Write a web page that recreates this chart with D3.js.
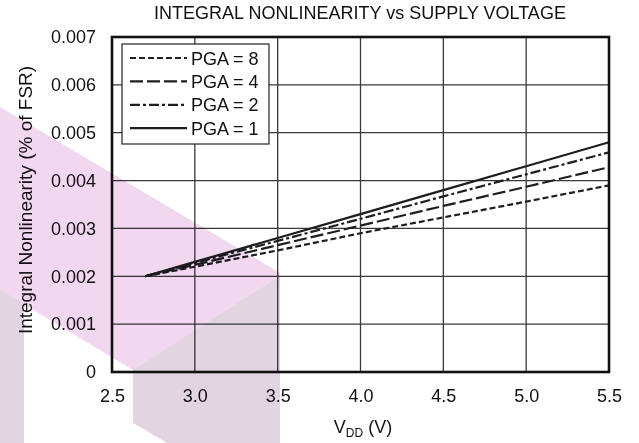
<!DOCTYPE html>
<html><head><meta charset="utf-8">
<script src="https://cdn.jsdelivr.net/npm/d3@7"></script>
<style>body{margin:0;background:#fff}svg{display:block;font-family:"Liberation Sans",Arial,sans-serif}</style>
</head><body><svg id="c" width="639" height="443"></svg>
<script>
const title = "INTEGRAL NONLINEARITY vs SUPPLY VOLTAGE";
const xTicks = [2.5, 3.0, 3.5, 4.0, 4.5, 5.0, 5.5];
const yTicks = [0, 0.001, 0.002, 0.003, 0.004, 0.005, 0.006, 0.007];
const vdd = [2.7, 3.0, 3.5, 4.0, 4.5, 5.0, 5.5];
const pga8 = [0.00200, 0.00220, 0.00254, 0.00290, 0.00323, 0.00356, 0.00390];
const pga4 = [0.00200, 0.00224, 0.00265, 0.00306, 0.00347, 0.00387, 0.00428];
const pga2 = [0.00200, 0.00228, 0.00274, 0.00320, 0.00367, 0.00413, 0.00459];
const pga1 = [0.00200, 0.00230, 0.00280, 0.00330, 0.00380, 0.00430, 0.00480];
const seriesNames = ["PGA = 8", "PGA = 4", "PGA = 2", "PGA = 1"];
const seriesValues = [pga8, pga4, pga2, pga1];
const dashes = ["6,3", "13,4", "10,3,3,3", null];

const svg = d3.select("#c");
const L = 112, R = 609, T = 37, B = 372;
const x = d3.scaleLinear().domain([2.5, 5.5]).range([L, R]);
const y = d3.scaleLinear().domain([0, 0.007]).range([B, T]);

// grid
const g = svg.append("g");
g.selectAll(".vx").data(xTicks).join("line")
  .attr("x1", d => x(d)).attr("x2", d => x(d)).attr("y1", T).attr("y2", B)
  .attr("stroke", "#3a3a3a").attr("stroke-width", 1.3);
g.selectAll(".hy").data(yTicks).join("line")
  .attr("y1", d => y(d)).attr("y2", d => y(d)).attr("x1", L).attr("x2", R)
  .attr("stroke", "#3a3a3a").attr("stroke-width", 1.3);

// axes labels via d3 axes
const xAxis = svg.append("g").attr("transform", `translate(0,${B})`)
  .call(d3.axisBottom(x).tickValues(xTicks).tickFormat(d3.format(".1f")).tickSize(0).tickPadding(0));
xAxis.select(".domain").remove();
xAxis.selectAll("text").attr("dy", null).attr("y", 30).attr("font-size", 18)
  .attr("font-family", "Liberation Sans, Arial, sans-serif").attr("fill", "#111");

const yAxis = svg.append("g").attr("transform", `translate(${L},0)`)
  .call(d3.axisLeft(y).tickValues(yTicks).tickFormat(d => d === 0 ? "0" : d3.format(".3f")(d)).tickSize(0).tickPadding(16));
yAxis.select(".domain").remove();
yAxis.selectAll("text").attr("font-size", 18)
  .attr("font-family", "Liberation Sans, Arial, sans-serif").attr("fill", "#111");

// series
const line = d3.line().x(d => x(d[0])).y(d => y(d[1]));
seriesValues.forEach((vals, i) => {
  svg.append("path").datum(vdd.map((v, j) => [v, vals[j]]))
    .attr("d", line).attr("fill", "none").attr("stroke", "#1e1e1e")
    .attr("stroke-width", 2.2).attr("stroke-dasharray", dashes[i]);
});

// frame
svg.append("rect").attr("x", L).attr("y", T).attr("width", R - L).attr("height", B - T)
  .attr("fill", "none").attr("stroke", "#111").attr("stroke-width", 2.6);

// legend
const lg = svg.append("g");
lg.append("rect").attr("x", 122).attr("y", 44).attr("width", 147).attr("height", 100)
  .attr("fill", "#fff").attr("stroke", "#222").attr("stroke-width", 1.2);
seriesNames.forEach((n, i) => {
  const yy = 58 + i * 23.4;
  lg.append("line").attr("x1", 130).attr("x2", 187).attr("y1", yy).attr("y2", yy)
    .attr("stroke", "#1e1e1e").attr("stroke-width", 2.2).attr("stroke-dasharray", dashes[i]);
  lg.append("text").attr("x", 191).attr("y", yy + 6.5).attr("font-size", 18).attr("fill", "#111").text(n);
});

// titles
svg.append("text").attr("x", 360).attr("y", 19).attr("text-anchor", "middle")
  .attr("font-size", 18).attr("fill", "#111").text(title);
svg.append("text").attr("transform", "translate(32,200) rotate(-90)").attr("text-anchor", "middle")
  .attr("font-size", 19).attr("fill", "#111").text("Integral Nonlinearity (% of FSR)");
const xl = svg.append("text").attr("x", 363).attr("y", 433).attr("text-anchor", "middle")
  .attr("font-size", 18).attr("fill", "#111");
xl.append("tspan").text("V");
xl.append("tspan").attr("font-size", 12).attr("dy", 4).text("DD");
xl.append("tspan").attr("dy", -4).text(" (V)");

// watermark overlay
const wm = svg.append("g").style("mix-blend-mode", "multiply");
const pink = [[0,107],[280,273],[280,276],[133,370],[0,290]];
const grey1 = [[0,290],[24,304],[24,443],[0,443]];
const grey2 = [[133,370],[280,276],[280,443],[167,443],[133,423]];
wm.append("polygon").attr("points", pink.join(" ")).attr("fill", "#f1d8f0").style("mix-blend-mode", "multiply");
wm.append("polygon").attr("points", grey1.join(" ")).attr("fill", "#e2d5e1").style("mix-blend-mode", "multiply");
wm.append("polygon").attr("points", grey2.join(" ")).attr("fill", "#e2d5e1").style("mix-blend-mode", "multiply");
</script></body></html>
